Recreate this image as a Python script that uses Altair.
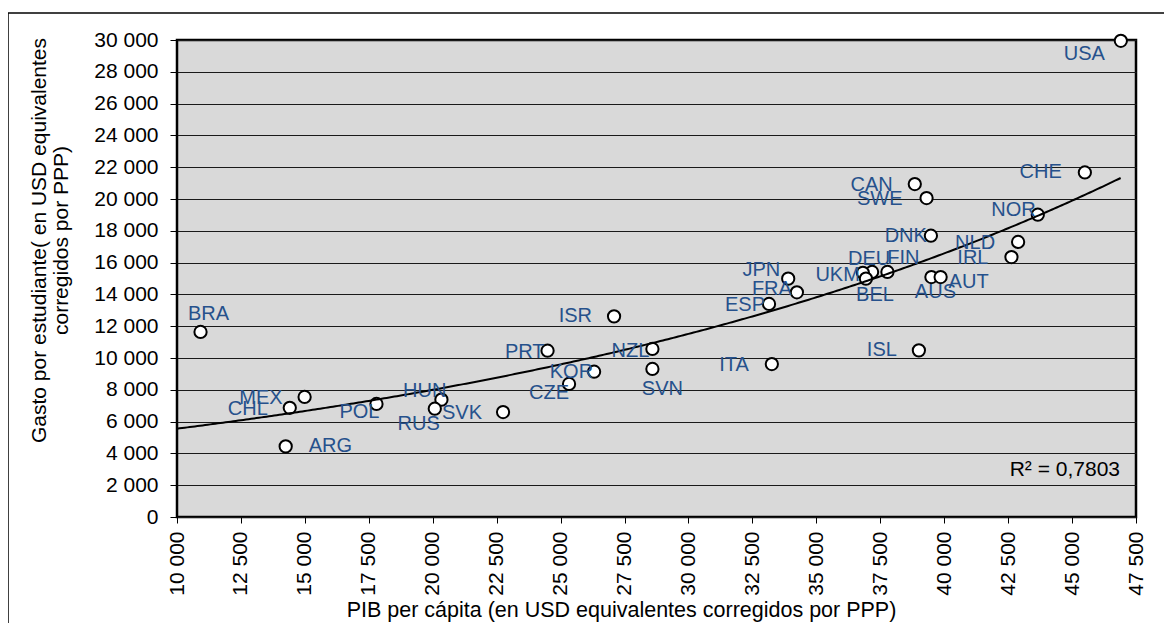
import altair as alt
import numpy as np
import pandas as pd

# ---- data ----
codes = ["USA", "CHE", "CAN", "SWE", "NOR", "DNK", "NLD", "IRL", "DEU", "FIN",
         "UKM", "BEL", "AUS", "AUT", "JPN", "FRA", "ESP", "ISL", "ITA", "BRA",
         "ISR", "PRT", "NZL", "SVN", "KOR", "CZE", "MEX", "CHL", "ARG", "POL",
         "HUN", "RUS", "SVK"]
gdp = [46907, 45500, 38850, 39310, 43660, 39480, 42890, 42630, 37180, 37780,
       36820, 36940, 39500, 39860, 33900, 34240, 33150, 39010, 33260, 10920,
       27090, 24490, 28590, 28590, 26310, 25330, 14990, 14410, 14250, 17800,
       20340, 20080, 22750]
spend = [29950, 21670, 20940, 20060, 19010, 17690, 17300, 16350, 15410, 15410,
         15360, 14990, 15090, 15090, 14990, 14130, 13400, 10480, 9620, 11640,
         12620, 10460, 10570, 9310, 9140, 8370, 7550, 6870, 4440, 7110,
         7380, 6810, 6600]

x_ticks = list(range(10000, 47501, 2500))
y_ticks = list(range(0, 30001, 2000))
y_title = ["Gasto por estudiante( en USD equivalentes", "corregidos por PPP)"]
x_title = "PIB per cápita (en USD equivalentes corregidos por PPP)"
r2_text = "R² = 0,7803"
trend_start = 10000

# label placement (style): align, dx, dy in pixels relative to the marker
label_style = {
    "USA": ("right", -16, 13), "CHE": ("right", -23, 0), "CAN": ("right", -22, 1),
    "SWE": ("right", -24, 1), "NOR": ("right", -2, -5), "DNK": ("right", -4, 0),
    "NLD": ("right", -23, 1), "IRL": ("right", -23, 1), "DEU": ("center", -3, -13),
    "FIN": ("center", 16, -14), "UKM": ("right", -3, 2), "BEL": ("center", 9, 16),
    "AUS": ("center", 4, 15), "AUT": ("left", 8, 5), "JPN": ("right", -8, -9),
    "FRA": ("right", -5, -3), "ESP": ("right", -4, 1), "ISL": ("right", -22, 0),
    "ITA": ("right", -23, 1), "BRA": ("center", 8, -18), "ISR": ("right", -22, 0),
    "PRT": ("right", -3, 1), "NZL": ("right", -3, 2), "SVN": ("center", 10, 20),
    "KOR": ("right", -1, 0), "CZE": ("right", 0, 9), "MEX": ("right", -22, 1),
    "CHL": ("right", -22, 1), "ARG": ("left", 23, 0), "POL": ("right", 3, 8),
    "HUN": ("right", 5, -9), "RUS": ("right", 5, 15), "SVK": ("right", -21, 1),
}

df = pd.DataFrame({"code": codes, "gdp": gdp, "spend": spend})

# Excel-style exponential trendline: least squares of ln(y) on x
b, ln_a = np.polyfit(np.array(gdp, float), np.log(np.array(spend, float)), 1)
a = float(np.exp(ln_a))
b = float(b)

FONT = "Liberation Sans"
LABEL_COLOR = "#26518C"
W, H = 959, 477

xscale = alt.Scale(domain=[10000, 47500], nice=False, zero=False)
yscale = alt.Scale(domain=[0, 30000], nice=False)
fmt = "replace(format(datum.value, ','), ',', ' ')"

base = alt.Chart(df)

points = base.mark_point(
    shape="circle", filled=True, fill="white", stroke="black",
    strokeWidth=2, size=150, opacity=1
).encode(
    x=alt.X("gdp:Q", scale=xscale, axis=alt.Axis(
        values=x_ticks, tickCount=len(x_ticks), labelExpr=fmt,
        labelAngle=270, labelPadding=8,
        labelOverlap=False, labelFlush=False, labelBound=False,
        tickSize=6, grid=False, domain=False, title=x_title,
        titleX=444, titleY=93, titleBaseline="middle",
        titleAlign="center", titleFontSize=21.5)),
    y=alt.Y("spend:Q", scale=yscale, axis=alt.Axis(
        values=y_ticks, tickCount=len(y_ticks), labelExpr=fmt,
        labelPadding=12, tickSize=7,
        labelOverlap=False, labelFlush=False, labelBound=False,
        grid=True, domain=False, title=y_title,
        titleX=-138, titleY=200, titleBaseline="middle", titleAngle=270,
        titleAlign="center", titleLineHeight=22)),
)

trend = alt.Chart(
    alt.sequence(trend_start, max(gdp) + 1, 100, as_="gdp")
).transform_calculate(
    spend=f"{a} * exp({b} * datum.gdp)"
).mark_line(color="black", strokeWidth=2).encode(
    x=alt.X("gdp:Q", scale=xscale),
    y=alt.Y("spend:Q", scale=yscale),
)

label_layers = []
for c in codes:
    align, dx, dy = label_style[c]
    label_layers.append(
        base.transform_filter(alt.datum.code == c).mark_text(
            align=align, baseline="middle", dx=dx, dy=dy,
            font=FONT, fontSize=20, color=LABEL_COLOR
        ).encode(
            x=alt.X("gdp:Q", scale=xscale),
            y=alt.Y("spend:Q", scale=yscale),
            text="code:N",
        )
    )

one = pd.DataFrame({"t": [r2_text]})
r2 = alt.Chart(one).mark_text(
    align="right", baseline="middle", font=FONT, fontSize=21, color="black"
).encode(x=alt.value(943), y=alt.value(430), text="t:N")

frame = pd.DataFrame({"k": [0]})
left_border = alt.Chart(frame).mark_rule(color="black", strokeWidth=1.5).encode(
    x=alt.value(-169), y=alt.value(-27), y2=alt.value(800))
top_border = alt.Chart(frame).mark_rule(color="black", strokeWidth=1.5).encode(
    x=alt.value(-169), x2=alt.value(1200), y=alt.value(-27))

chart = alt.layer(
    left_border, top_border, points, trend, *label_layers, r2
).properties(
    width=W, height=H,
    padding={"left": 169, "top": 32, "right": 28, "bottom": 106},
    autosize=alt.AutoSizeParams(type="none"),
    background="white",
).configure_view(
    fill="#D9D9D9", stroke="black", strokeWidth=2.5
).configure_axis(
    labelFont=FONT, labelFontSize=21, labelColor="black",
    titleFont=FONT, titleFontSize=21, titleFontWeight="normal", titleColor="black",
    tickColor="black", tickWidth=1, gridColor="#1a1a1a", gridWidth=1,
)

chart.save("out.html", embed_options={"renderer": "svg", "actions": False})
